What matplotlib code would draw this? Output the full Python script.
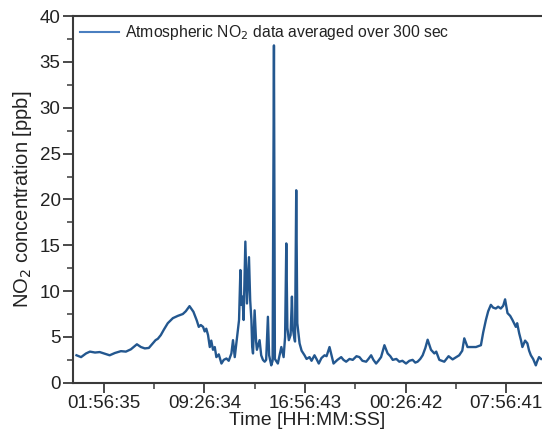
import matplotlib
matplotlib.use("Agg")
import matplotlib.pyplot as plt
from matplotlib.ticker import MultipleLocator, FixedLocator

plt.rcParams['font.family'] = ['Liberation Sans', 'DejaVu Sans']

# time in hours counted from midnight of the first day, NO2 in ppb
hours = [-0.08, 0.26, 0.63, 0.92, 1.30, 1.65, 1.97, 2.39, 2.78, 3.23,
         3.60, 3.97, 4.42, 4.72, 5.01, 5.31, 5.61, 5.81, 5.98, 6.20,
         6.43, 6.72, 7.10, 7.47, 7.84, 8.06, 8.34, 8.63, 8.88, 9.03,
         9.18, 9.35, 9.47, 9.59, 9.72, 9.85, 9.96, 10.09, 10.22, 10.34,
         10.52, 10.72, 10.89, 11.09, 11.26, 11.46, 11.58, 11.71, 11.88, 12.03,
         12.13, 12.20, 12.28, 12.37, 12.50, 12.62, 12.77, 12.86, 12.95, 13.01,
         13.07, 13.19, 13.30, 13.36, 13.56, 13.68, 13.81, 13.94, 14.05, 14.18,
         14.27, 14.43, 14.53, 14.63, 14.70, 14.92, 15.18, 15.35, 15.46, 15.55,
         15.63, 15.74, 15.87, 15.97, 16.03, 16.09, 16.20, 16.29, 16.37, 16.54,
         16.69, 16.91, 17.06, 17.28, 17.43, 17.65, 17.80, 17.97, 18.17, 18.40,
         18.55, 18.77, 18.92, 19.07, 19.36, 19.64, 19.81, 20.01, 20.26, 20.50,
         20.78, 21.00, 21.22, 21.50, 21.67, 21.87, 22.04, 22.24, 22.41, 22.61,
         22.86, 23.10, 23.30, 23.48, 23.75, 23.97, 24.20, 24.47, 24.72, 24.96,
         25.16, 25.33, 25.53, 25.71, 25.91, 26.08, 26.33, 26.58, 26.72, 26.95,
         27.32, 27.64, 27.94, 28.21, 28.43, 28.66, 28.81, 29.05, 29.33, 29.68,
         30.05, 30.22, 30.42, 30.59, 30.79, 30.96, 31.16, 31.33, 31.53, 31.71,
         31.85, 32.03, 32.23, 32.40, 32.65, 32.75, 32.90, 33.04, 33.14, 33.34,
         33.51, 33.64, 33.77, 33.94, 34.14, 34.23, 34.38, 34.53]
no2 = [3.0, 2.8, 3.2, 3.4, 3.3, 3.35, 3.2, 3.0, 3.25, 3.45,
       3.4, 3.65, 4.2, 3.9, 3.75, 3.8, 4.3, 4.65, 4.8, 5.2,
       5.8, 6.5, 7.05, 7.3, 7.5, 7.8, 8.36, 7.75, 6.8, 6.1,
       6.3, 6.1, 5.6, 5.9, 5.2, 3.9, 4.6, 3.6, 3.9, 2.8,
       3.1, 2.1, 2.5, 2.65, 2.4, 3.2, 4.65, 2.8, 5.0, 6.85,
       12.3, 8.5, 9.4, 6.85, 15.4, 8.65, 13.7, 9.0, 6.85, 3.9,
       3.2, 7.9, 4.5, 3.6, 4.65, 3.0, 2.5, 2.3, 2.5, 7.2,
       3.0, 1.9, 2.4, 36.8, 2.6, 2.1, 3.9, 2.8, 5.0, 15.2,
       6.0, 4.65, 5.2, 9.4, 6.0, 5.4, 4.5, 21.0, 6.5, 4.3,
       3.5, 3.0, 2.6, 2.8, 2.4, 3.0, 2.6, 2.1, 2.7, 3.0,
       2.9, 3.9, 3.0, 2.1, 2.5, 2.8, 2.5, 2.3, 2.6, 2.5,
       2.9, 2.8, 2.4, 2.3, 2.6, 3.0, 2.5, 2.1, 2.4, 2.8,
       4.1, 3.2, 2.9, 2.5, 2.6, 2.3, 2.4, 2.1, 2.4, 2.5,
       2.2, 2.3, 2.6, 3.0, 3.8, 4.7, 3.6, 3.2, 3.4, 2.5,
       2.3, 2.9, 2.55, 2.8, 3.0, 3.5, 4.85, 3.9, 3.9, 3.9,
       4.1, 5.5, 6.85, 7.8, 8.5, 8.2, 8.1, 8.3, 8.1, 8.4,
       9.1, 7.6, 7.3, 6.85, 6.1, 6.5, 5.4, 4.6, 3.9, 4.6,
       4.3, 3.5, 3.0, 2.6, 1.9, 2.3, 2.8, 2.6]

tick_hours = [1.943, 9.443, 16.945, 24.445, 31.945]
tick_labels = ['01:56:35', '09:26:34', '16:56:43', '00:26:42', '07:56:41']

fig = plt.figure(figsize=(5.42, 4.34), dpi=100)
ax = fig.add_axes([0.1347, 0.118, 0.8653, 0.845])

ax.plot(hours, no2, color='#23578f', lw=1.7,
        label='Atmospheric NO$_2$ data averaged over 300 sec')

ax.set_xlim(-0.34, 34.6)
ax.set_ylim(0, 40)
ax.xaxis.set_major_locator(FixedLocator(tick_hours))
ax.set_xticklabels(tick_labels)
mids = [(a + b) / 2 for a, b in zip(tick_hours[:-1], tick_hours[1:])]
ax.xaxis.set_minor_locator(FixedLocator(mids))
ax.yaxis.set_major_locator(MultipleLocator(5))
ax.yaxis.set_minor_locator(MultipleLocator(2.5))

for s in ['left', 'bottom', 'top']:
    ax.spines[s].set_color('#3a3a3a')
    ax.spines[s].set_linewidth(1.5)
ax.spines['right'].set_visible(False)

ax.tick_params(which='major', direction='out', length=7, width=1.3,
               color='#3a3a3a', labelsize=13.5, labelcolor='#222222', pad=2)
ax.tick_params(which='minor', direction='out', length=4, width=1.1,
               color='#3a3a3a')
ax.tick_params(top=False, right=False, which='both')

ax.set_xlabel('Time [HH:MM:SS]', fontsize=14, color='#222222', labelpad=0)
ax.set_ylabel('NO$_2$ concentration [ppb]', fontsize=14.5, color='#222222',
              labelpad=4)

leg = ax.legend(loc='upper left', frameon=False, fontsize=11.3,
                handlelength=2.5, handletextpad=0.35,
                bbox_to_anchor=(0.0, 1.0), borderaxespad=0.05)
for t in leg.get_texts():
    t.set_color('#222222')
leg.get_lines()[0].set_color('#4a7fc0')
leg.get_lines()[0].set_linewidth(1.5)

fig.savefig('out.png', dpi=100)
